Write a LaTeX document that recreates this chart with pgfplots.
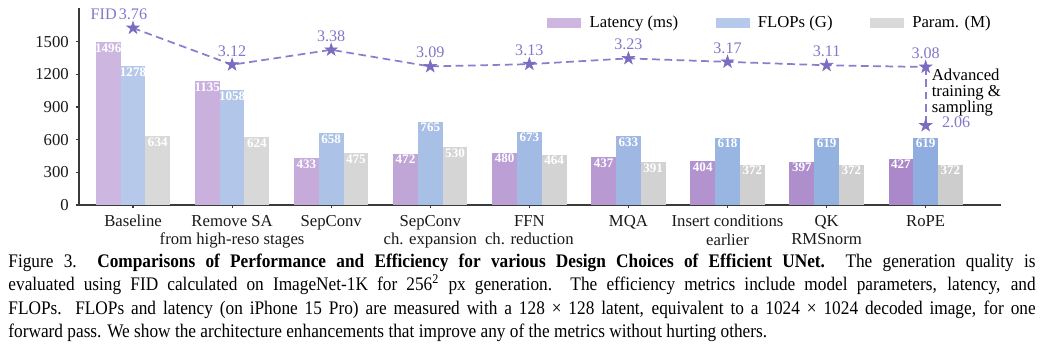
\documentclass[border=0pt]{standalone}
\usepackage{pgfplots}
\pgfplotsset{compat=1.18}
\usepackage{pgfplotstable}
\usepackage{fontspec}
\setmainfont{Liberation Serif}
\newfontfamily\capfont{Liberation Serif}[FakeStretch=0.9]

\definecolor{latL}{HTML}{CDB6E0}
\definecolor{latD}{HTML}{AB88C9}
\definecolor{flL}{HTML}{B6C9EA}
\definecolor{flD}{HTML}{8FAEDF}
\definecolor{parL}{HTML}{D9D9D9}
\definecolor{parD}{HTML}{CDCDCD}
\definecolor{starc}{HTML}{7B6BC1}
\definecolor{linec}{HTML}{8A7DCC}
\definecolor{labc}{HTML}{8476C8}
\definecolor{spine}{HTML}{3A3A3A}

\foreach \i in {0,...,8}{%
  \pgfmathtruncatemacro\p{12.5*\i}%
  \xglobal\colorlet{lat\i}{latD!\p!latL}%
  \xglobal\colorlet{fl\i}{flD!\p!flL}%
  \xglobal\colorlet{par\i}{parD!\p!parL}%
}

\pgfdeclareplotmark{fstar}{%
  \pgfpathmoveto{\pgfpointpolar{90}{\pgfplotmarksize}}%
  \pgfpathlineto{\pgfpointpolar{126}{0.382\pgfplotmarksize}}%
  \pgfpathlineto{\pgfpointpolar{162}{\pgfplotmarksize}}%
  \pgfpathlineto{\pgfpointpolar{198}{0.382\pgfplotmarksize}}%
  \pgfpathlineto{\pgfpointpolar{234}{\pgfplotmarksize}}%
  \pgfpathlineto{\pgfpointpolar{270}{0.382\pgfplotmarksize}}%
  \pgfpathlineto{\pgfpointpolar{306}{\pgfplotmarksize}}%
  \pgfpathlineto{\pgfpointpolar{342}{0.382\pgfplotmarksize}}%
  \pgfpathlineto{\pgfpointpolar{18}{\pgfplotmarksize}}%
  \pgfpathlineto{\pgfpointpolar{54}{0.382\pgfplotmarksize}}%
  \pgfpathclose
  \pgfusepathqfillstroke
}

\pgfplotsset{
  /pgf/number format/assume math mode=true,
  /pgf/number format/1000 sep={},
}

\pgfplotstableread{
x lat fl par
0 1496 1278 634
1 1135 1058 624
2 433 658 475
3 472 765 530
4 480 673 464
5 437 633 391
6 404 618 372
7 397 619 372
8 427 619 372
}\bars

\begin{document}
\begin{tikzpicture}
\useasboundingbox (0,0) rectangle (543.75pt,-182.3pt);
\begin{axis}[
  at={(41.15pt,-106.77pt)}, anchor=south west,
  width=480.2pt, height=102.6pt, scale only axis,
  xmin=-0.545, xmax=8.76, ymin=0, ymax=1810,
  axis x line*=bottom, axis y line*=left,
  axis line style={spine, line width=0.8pt, -},
  tick align=outside, major tick length=1.8pt,
  tick style={spine, line width=0.6pt},
  ytick={0,300,600,900,1200,1500},
  xtick={0,...,8},
  xticklabels={Baseline,{Remove SA\\from high-reso stages},SepConv,{SepConv\\ch. expansion},{FFN\\ch. reduction},MQA,{Insert conditions\\earlier},{QK\\RMSnorm},RoPE},
  xticklabel style={align=center, font=\fontsize{8.7}{9.6}\selectfont, text=black!90},
  yticklabel style={font=\fontsize{8.7}{9.4}\selectfont, text=black!90},
  clip=false,
  every node near coord/.append style={anchor=north, yshift=-0.6pt, inner sep=0pt, text=white, font=\bfseries\fontsize{6.8}{7}\selectfont},
]
\pgfplotsinvokeforeach{0,1,2,3,4,5,6,7,8}{
  \addplot[ybar, bar width=0.25, bar shift=0, fill=lat#1, draw=none, nodes near coords, forget plot,
    restrict expr to domain={\thisrow{x}}{#1:#1}]
    table[x expr=\thisrow{x}-0.25, y=lat] {\bars};
  \addplot[ybar, bar width=0.25, bar shift=0, fill=fl#1, draw=none, nodes near coords, forget plot,
    restrict expr to domain={\thisrow{x}}{#1:#1}]
    table[x=x, y=fl] {\bars};
  \addplot[ybar, bar width=0.25, bar shift=0, fill=par#1, draw=none, nodes near coords, forget plot,
    restrict expr to domain={\thisrow{x}}{#1:#1}]
    table[x expr=\thisrow{x}+0.25, y=par] {\bars};
}
\end{axis}

\begin{axis}[
  at={(41.15pt,-106.77pt)}, anchor=south west,
  width=480.2pt, height=102.6pt, scale only axis,
  xmin=-0.545, xmax=8.76, ymin=0.674, ymax=4.109,
  hide axis, clip=false,
  legend style={at={(axis description cs:0.5076,0.924)}, anchor=west, draw=none, fill=none,
    inner sep=0pt, legend columns=3, font=\fontsize{8.7}{9.4}\selectfont,
    /tikz/every even column/.append style={column sep=17.5pt}},
  legend cell align=left,
  legend image code/.code={\path[#1] (0pt,-2.6pt) rectangle (17.7pt,2.6pt); \path (0pt,0pt) -- (20pt,0pt);},
]
\addlegendimage{fill=latL, draw=none}
\addlegendentry{Latency (ms)}
\addlegendimage{fill=flL, draw=none}
\addlegendentry{FLOPs (G)}
\addlegendimage{fill=parL, draw=none}
\addlegendentry{Param. (M)}
\addplot[linec, line width=0.9pt, dash pattern=on 4pt off 2.4pt, forget plot]
  coordinates {(8,3.08) (8,2.06)};
\addplot[linec, line width=0.9pt, dash pattern=on 4pt off 2.4pt, forget plot,
  mark=fstar, mark size=3.4pt, mark options={solid, fill=starc, draw=starc, line width=0.3pt},
  nodes near coords, point meta=explicit symbolic,
  every node near coord/.append style={anchor=base, yshift=4.5pt, inner sep=0pt, text=labc, font=\fontsize{8.4}{9}\selectfont}]
  coordinates {(0,3.76)[3.76] (1,3.12)[3.12] (2,3.38)[3.38] (3,3.09)[3.09] (4,3.13)[3.13]
               (5,3.23)[3.23] (6,3.17)[3.17] (7,3.11)[3.11] (8,3.08)[3.08]};
\addplot[only marks, mark=fstar, mark size=3.4pt, forget plot, mark options={fill=starc, draw=starc, line width=0.3pt}]
  coordinates {(8,2.06)};
\node[anchor=base west, xshift=8.3pt, yshift=-1.2pt, inner sep=0pt, text=labc, font=\fontsize{8.4}{9}\selectfont] at (axis cs:8,2.06) {2.06};
\node[anchor=base east, xshift=-8.3pt, yshift=4.5pt, inner sep=0pt, text=labc, font=\fontsize{8.4}{9}\selectfont] at (axis cs:0,3.76) {FID};
\node[anchor=north west, xshift=3pt, yshift=1pt, inner sep=0pt, align=left, font=\fontsize{8.7}{8.4}\selectfont] at (axis cs:8,3.028) {Advanced\\training \&\\sampling};
\end{axis}

\node[anchor=north west, text width=535pt, inner sep=0pt, align=justify, font=\capfont\fontsize{10}{12}\selectfont] at (4.2pt,-132.3pt) {Figure 3.\ \ {\bfseries Comparisons of Performance and Efficiency for various Design Choices of Efficient UNet.}\ \ The generation quality is\linebreak evaluated using FID calculated on ImageNet-1K for 256\textsuperscript{2} px generation.\ \ The efficiency metrics include model parameters, latency, and\linebreak FLOPs. FLOPs and latency (on iPhone 15 Pro) are measured with a 128 × 128 latent, equivalent to a 1024 × 1024 decoded image, for one\linebreak forward pass. We show the architecture enhancements that improve any of the metrics without hurting others.};
\end{tikzpicture}
\end{document}
